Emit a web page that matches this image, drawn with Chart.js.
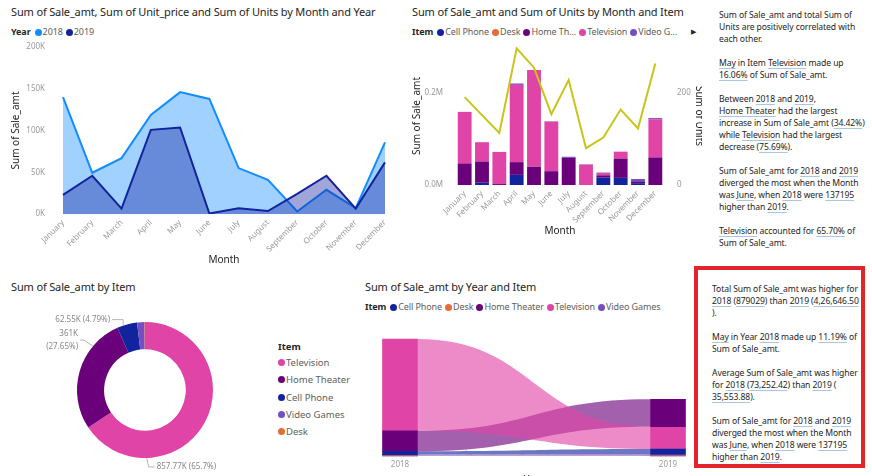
<!DOCTYPE html>
<html><head><meta charset="utf-8">
<script src="https://cdn.jsdelivr.net/npm/chart.js@4.4.1/dist/chart.umd.min.js"></script>
<style>
html,body{margin:0;padding:0;}
body{width:872px;height:476px;background:#fff;position:relative;overflow:hidden;font-family:'Noto Sans',sans-serif;color:#252423;}
.a{position:absolute;white-space:nowrap;}
.title{font-size:11px;line-height:16px;height:16px;color:#252423;letter-spacing:-0.15px}
.leg{font-size:9px;line-height:12px;height:12px;color:#605e5c;display:flex;align-items:center;letter-spacing:-0.1px}
.leg b{color:#252423;font-weight:700;margin-right:4px}
.leg .it{display:flex;align-items:center;margin-right:3px}
.dot{width:7px;height:7px;border-radius:50%;display:inline-block;margin-right:1px}
.vleg{font-size:9.5px;color:#605e5c;line-height:17.3px}
.vleg b{color:#252423;font-weight:700;display:block;line-height:14px;margin-bottom:0}
.vleg .it{display:flex;align-items:center}
.txt{font-size:8.6px;line-height:12px;color:#252423;letter-spacing:-0.1px}
.u{text-decoration:underline;text-decoration-color:#a9c6e6;text-underline-offset:2px}
canvas{position:absolute;left:0;top:0}
.box{position:absolute;left:694px;top:266px;width:163px;height:194px;border:4.5px solid #e3242b}
</style>
</head><body>

<div class="a title" style="left:11px;top:4px">Sum of Sale_amt, Sum of Unit_price and Sum of Units by Month and Year</div>
<div class="a leg" id="leg1" style="left:11px;top:26px"></div>
<div class="a" style="left:0;top:40px;width:400px;height:230px"><canvas id="c1" width="400" height="230"></canvas></div>

<div class="a title" style="left:412px;top:4px">Sum of Sale_amt and Sum of Units by Month and Item</div>
<div class="a leg" id="leg2" style="left:412px;top:26px"></div>
<div class="a" style="left:691px;top:26px;font-size:7px;line-height:12px;color:#252423">&#9654;</div>
<div class="a" style="left:400px;top:40px;width:302px;height:210px;overflow:hidden"><canvas id="c2" width="306" height="210"></canvas></div>

<div class="a txt" style="left:719px;top:9px">Sum of Sale_amt and total Sum of<br>Units are positively correlated with<br>each other.<br><br><span class="u">May</span> in Item <span class="u">Television</span> made up<br><span class="u">16.06%</span> of Sum of Sale_amt.<br><br>Between <span class="u">2018</span> and <span class="u">2019</span>,<br><span class="u">Home Theater</span> had the largest<br>increase in Sum of Sale_amt (<span class="u">34.42%</span>)<br>while <span class="u">Television</span> had the largest<br>decrease (<span class="u">75.69%</span>).<br><br>Sum of Sale_amt for <span class="u">2018</span> and <span class="u">2019</span><br>diverged the most when the Month<br>was <span class="u">June</span>, when <span class="u">2018</span> were <span class="u">137195</span><br>higher than <span class="u">2019</span>.<br><br><span class="u">Television</span> accounted for <span class="u">65.70%</span> of<br>Sum of Sale_amt.</div>

<div class="a title" style="left:11px;top:279px">Sum of Sale_amt by Item</div>
<div class="a" style="left:0;top:290px;width:270px;height:186px"><canvas id="c3" width="270" height="186"></canvas></div>
<div class="a vleg" id="leg3" style="left:278px;top:340px"></div>

<div class="a title" style="left:365px;top:279px">Sum of Sale_amt by Year and Item</div>
<div class="a leg" id="leg4" style="left:365px;top:301px"></div>
<div class="a" style="left:362px;top:320px;width:330px;height:156px"><canvas id="c4" width="330" height="156"></canvas></div>

<div class="box"></div>
<div class="a txt" style="left:712px;top:283px">Total Sum of Sale_amt was higher for<br><span class="u">2018</span> (<span class="u">879029</span>) than <span class="u">2019</span> (<span class="u">4,26,646.50</span><br>).<br><br><span class="u">May</span> in Year <span class="u">2018</span> made up <span class="u">11.19%</span> of<br>Sum of Sale_amt.<br><br>Average Sum of Sale_amt was higher<br>for <span class="u">2018</span> (<span class="u">73,252.42</span>) than <span class="u">2019</span> (<br><span class="u">35,553.88</span>).<br><br>Sum of Sale_amt for <span class="u">2018</span> and <span class="u">2019</span><br>diverged the most when the Month<br>was <span class="u">June</span>, when <span class="u">2018</span> were <span class="u">137195</span><br>higher than <span class="u">2019</span>.</div>

<script>
// ---------- DATA ----------
const months = ['January','February','March','April','May','June','July','August','September','October','November','December'];
const years = ['2018','2019'];
const sale2018 = [140000, 49400, 66900, 118700, 146000, 137800, 55000, 41000, 3000, 29000, 7000, 85700];
const sale2019 = [23000, 45800, 6400, 100800, 103600, 600, 6800, 3600, 24000, 45800, 6400, 61800];

const items = ['Cell Phone','Desk','Home Theater','Television','Video Games'];
const itemLegendLabels = ['Cell Phone','Desk','Home Th...','Television','Video G...'];
const cellPhoneByMonth   = [0, 5000, 0, 22000, 0, 0, 0, 0, 16000, 15500, 4000, 0];
const deskByMonth        = [0, 0, 0, 0, 0, 0, 0, 0, 0, 0, 0, 0];
const homeTheaterByMonth = [47000, 46000, 2000, 27700, 40000, 30000, 59000, 0, 5000, 42000, 4000, 60000];
const televisionByMonth  = [112000, 42000, 70000, 168000, 210000, 107500, 0, 44000, 5000, 15000, 0, 83000];
const videoGamesByMonth  = [0, 0, 0, 3000, 0, 1000, 2400, 1000, 1000, 0, 5000, 2500];
const unitsByMonth       = [191, 152, 113, 297, 255, 154, 228, 80, 103, 164, 123, 264];

const donutItems  = ['Television','Home Theater','Cell Phone','Video Games','Desk'];
const donutTotals = [857770, 361000, 62550, 22900, 1455];

// ribbon: values per item (items order) for each year
const ribbon2018 = [25000, 1000, 154000, 690000, 9000];
const ribbon2019 = [37500, 900, 207000, 167700, 13500];

const saleTicks1 = [0, 50000, 100000, 150000, 200000];
const saleTicks2 = [0, 200000];
const unitTicks2 = [0, 200];

// ---------- STYLE ----------
const yearColors = ['#118DFF', '#12239E'];
const itemColors = ['#12239E', '#E66C37', '#6B007B', '#E044A7', '#744EC2'];
const donutColors = donutItems.map(n => itemColors[items.indexOf(n)]);
const tickColor = '#9c9a98';
const axisTitleColor = '#252423';
Chart.defaults.font.family = "'Noto Sans', sans-serif";
Chart.defaults.color = tickColor;

function rgba(hex, a){const n=parseInt(hex.slice(1),16);return `rgba(${n>>16&255},${n>>8&255},${n&255},${a})`;}
function fixAxis(w, h){return s=>{ if(w!=null) s.width=w; if(h!=null) s.height=h; s.paddingTop=0; s.paddingBottom=0; s.paddingLeft=0; s.paddingRight=0; };}
function legendHTML(title, names, colors){
  return `<b>${title}</b>` + names.map((n,i)=>`<span class="it"><span class="dot" style="background:${colors[i]}"></span>${n}</span>`).join('');
}
document.getElementById('leg1').innerHTML = legendHTML('Year', years, yearColors);
document.getElementById('leg2').innerHTML = legendHTML('Item', itemLegendLabels, itemColors);
document.getElementById('leg4').innerHTML = legendHTML('Item', items, itemColors);
document.getElementById('leg3').innerHTML = '<b>Item</b>' + donutItems.map((n,i)=>`<span class="it"><span class="dot" style="background:${donutColors[i]}"></span>${n}</span>`).join('');

const baseOpts = {responsive:false, animation:false, plugins:{legend:{display:false}, tooltip:{enabled:false}}};

// ---------- CHART 1: area ----------
new Chart(document.getElementById('c1'), {
  type:'line',
  data:{labels:months, datasets:[
    {label:years[1], data:sale2019, borderColor:yearColors[1], backgroundColor:rgba(yearColors[1],0.4), fill:'origin', borderWidth:2, pointRadius:0, tension:0},
    {label:years[0], data:sale2018, borderColor:yearColors[0], backgroundColor:rgba(yearColors[0],0.4), fill:'origin', borderWidth:2, pointRadius:0, tension:0}
  ]},
  options:{...baseOpts,
    layout:{padding:{top:7,right:15,left:0,bottom:0}},
    scales:{
      x:{grid:{display:false,drawTicks:false}, border:{display:false},
         ticks:{minRotation:45,maxRotation:45,autoSkip:false,color:tickColor,font:{size:8},padding:4},
         title:{display:true,text:'Month',color:axisTitleColor,font:{size:10},padding:{top:0,bottom:4}},
         afterFit:fixAxis(null,56)},
      y:{min:0,max:200000,grid:{display:false,drawTicks:false}, border:{display:false},
         afterBuildTicks:s=>{s.ticks = saleTicks1.map(v=>({value:v}));},
         ticks:{color:tickColor,font:{size:8},padding:18,callback:v=>(v/1000)+'K'},
         title:{display:true,text:'Sum of Sale_amt',color:axisTitleColor,font:{size:10},padding:{top:10,bottom:0}},
         afterFit:fixAxis(63,null)}
    }}
});

// ---------- CHART 2: stacked bars + line ----------
const monthlyItemData = [cellPhoneByMonth, deskByMonth, homeTheaterByMonth, televisionByMonth, videoGamesByMonth];
new Chart(document.getElementById('c2'), {
  type:'bar',
  data:{labels:months, datasets:[
    {type:'line', label:'Sum of Units', data:unitsByMonth, yAxisID:'y1', borderColor:'#C9C41A', borderWidth:2, pointRadius:0, tension:0, order:0},
    ...items.map((n,i)=>({label:n, data:monthlyItemData[i], backgroundColor:itemColors[i], yAxisID:'y', stack:'s', order:1, categoryPercentage:1, barPercentage:0.8}))
  ]},
  options:{...baseOpts,
    layout:{padding:{top:7,right:0,left:0,bottom:0}},
    scales:{
      x:{stacked:true, grid:{display:false,drawTicks:false}, border:{display:false},
         ticks:{minRotation:45,maxRotation:45,autoSkip:false,color:tickColor,font:{size:8},padding:4},
         title:{display:true,text:'Month',color:axisTitleColor,font:{size:10},padding:{top:0,bottom:13}},
         afterFit:fixAxis(null,65)},
      y:{stacked:true, min:0, max:300000, position:'left', grid:{display:false,drawTicks:false}, border:{display:false},
         afterBuildTicks:s=>{s.ticks = saleTicks2.map(v=>({value:v}));},
         ticks:{color:tickColor,font:{size:8},padding:13,callback:v=>(v/1e6).toFixed(1)+'M'},
         title:{display:true,text:'Sum of Sale_amt',color:axisTitleColor,font:{size:10},padding:{top:11,bottom:0}},
         afterFit:fixAxis(56,null)},
      y1:{min:0, max:300, position:'right', grid:{display:false,drawTicks:false}, border:{display:false},
         afterBuildTicks:s=>{s.ticks = unitTicks2.map(v=>({value:v}));},
         ticks:{color:tickColor,font:{size:8},padding:13},
         title:{display:true,text:'Sum of Units',color:axisTitleColor,font:{size:10},padding:{top:1,bottom:0}},
         afterFit:fixAxis(42,null)}
    }}
});

// ---------- CHART 3: doughnut ----------
const donutTotal = donutTotals.reduce((a,b)=>a+b,0);
function fmtK(v){return (v/1000).toFixed(2).replace(/\.?0+$/,'')+'K';}
function fmtPct(v){return (v/donutTotal*100).toFixed(2).replace(/\.?0+$/,'')+'%';}
// label placement style: index, fraction along slice for anchor, elbow offset, line length, side, two-line?
const donutLabelStyle = [
  {index:0, at:0.755, ex:2, ey:9, len:6, side:'right', split:false},
  {index:1, at:0.74, ex:-9, ey:-6, len:4, side:'left', split:true},
  {index:2, at:0.3, ex:0, ey:-6, len:11, side:'left', split:false}
];
const donutLabels = {
  id:'donutLabels',
  afterDatasetsDraw(chart){
    const ctx = chart.ctx, meta = chart.getDatasetMeta(0);
    ctx.save();
    ctx.font = "8px 'Noto Sans', sans-serif";
    ctx.fillStyle = '#8a8886'; ctx.strokeStyle = '#b8b6b4'; ctx.lineWidth = 1;
    donutLabelStyle.forEach(st=>{
      const arc = meta.data[st.index];
      const p = arc.getProps(['x','y','startAngle','endAngle','outerRadius'], true);
      const ang = p.startAngle + (p.endAngle - p.startAngle) * st.at;
      const ax = p.x + Math.cos(ang) * p.outerRadius, ay = p.y + Math.sin(ang) * p.outerRadius;
      const ex = ax + st.ex, ey = ay + st.ey;
      const dir = st.side === 'right' ? 1 : -1;
      const lx = ex + dir * st.len;
      ctx.beginPath(); ctx.moveTo(ax, ay); ctx.lineTo(ex, ey); ctx.lineTo(lx, ey); ctx.stroke();
      const v = donutTotals[st.index];
      ctx.textAlign = st.side === 'right' ? 'left' : 'right';
      ctx.textBaseline = 'middle';
      const tx = lx + dir * 2;
      if (st.split) {
        ctx.fillText(fmtK(v), tx, ey - 6.5);
        ctx.fillText('(' + fmtPct(v) + ')', tx, ey + 6.5);
      } else {
        ctx.fillText(fmtK(v) + ' (' + fmtPct(v) + ')', tx, ey);
      }
    });
    ctx.restore();
  }
};
new Chart(document.getElementById('c3'), {
  type:'doughnut',
  data:{labels:donutItems, datasets:[{data:donutTotals, backgroundColor:donutColors, borderWidth:0}]},
  options:{...baseOpts, cutout:'60%', layout:{padding:{left:77,right:57,top:32,bottom:18}}},
  plugins:[donutLabels]
});

// ---------- CHART 4: ribbon ----------
const ribbonYears = [ribbon2018, ribbon2019];
// rank items per year: smallest at bottom, largest on top
const ribbonRanges = items.map(()=>[]);
ribbonYears.forEach((vals, yi)=>{
  const order = vals.map((v,i)=>i).sort((a,b)=>vals[a]-vals[b]);
  let acc = 0;
  order.forEach(i=>{ ribbonRanges[i][yi] = [acc, acc + vals[i]]; acc += vals[i]; });
});
const ribbonMax = Math.max(...ribbonYears.map(v=>v.reduce((a,b)=>a+b,0)));
const ribbonPlugin = {
  id:'ribbons',
  beforeDatasetsDraw(chart){
    const ctx = chart.ctx;
    ctx.save();
    chart.data.datasets.forEach((ds, i)=>{
      const meta = chart.getDatasetMeta(i);
      const b0 = meta.data[0], b1 = meta.data[1];
      const x0 = b0.x + b0.width/2, x1 = b1.x - b1.width/2;
      const t0 = Math.min(b0.y, b0.base), d0 = Math.max(b0.y, b0.base);
      const t1 = Math.min(b1.y, b1.base), d1 = Math.max(b1.y, b1.base);
      const m = (x0 + x1)/2;
      ctx.beginPath();
      ctx.moveTo(x0, t0);
      ctx.bezierCurveTo(m, t0, m, t1, x1, t1);
      ctx.lineTo(x1, d1);
      ctx.bezierCurveTo(m, d1, m, d0, x0, d0);
      ctx.closePath();
      ctx.fillStyle = rgba(itemColors[i], 0.62);
      ctx.fill();
    });
    ctx.restore();
  }
};
new Chart(document.getElementById('c4'), {
  type:'bar',
  data:{labels:years, datasets: items.map((n,i)=>({label:n, data:ribbonRanges[i], backgroundColor:itemColors[i], barThickness:35, clip:false, grouped:false}))},
  options:{...baseOpts,
    layout:{padding:{top:19,left:38,right:24,bottom:0}},
    scales:{
      x:{offset:false, grid:{display:false,drawTicks:false}, border:{display:false},
         ticks:{color:tickColor,font:{size:8},padding:4,maxRotation:0},
         title:{display:true,text:'Year',color:axisTitleColor,font:{size:10},padding:{top:0,bottom:-10}},
         afterFit:fixAxis(null,20)},
      y:{display:false, min:0, max:ribbonMax}
    }},
  plugins:[ribbonPlugin]
});
</script>
</body></html>
